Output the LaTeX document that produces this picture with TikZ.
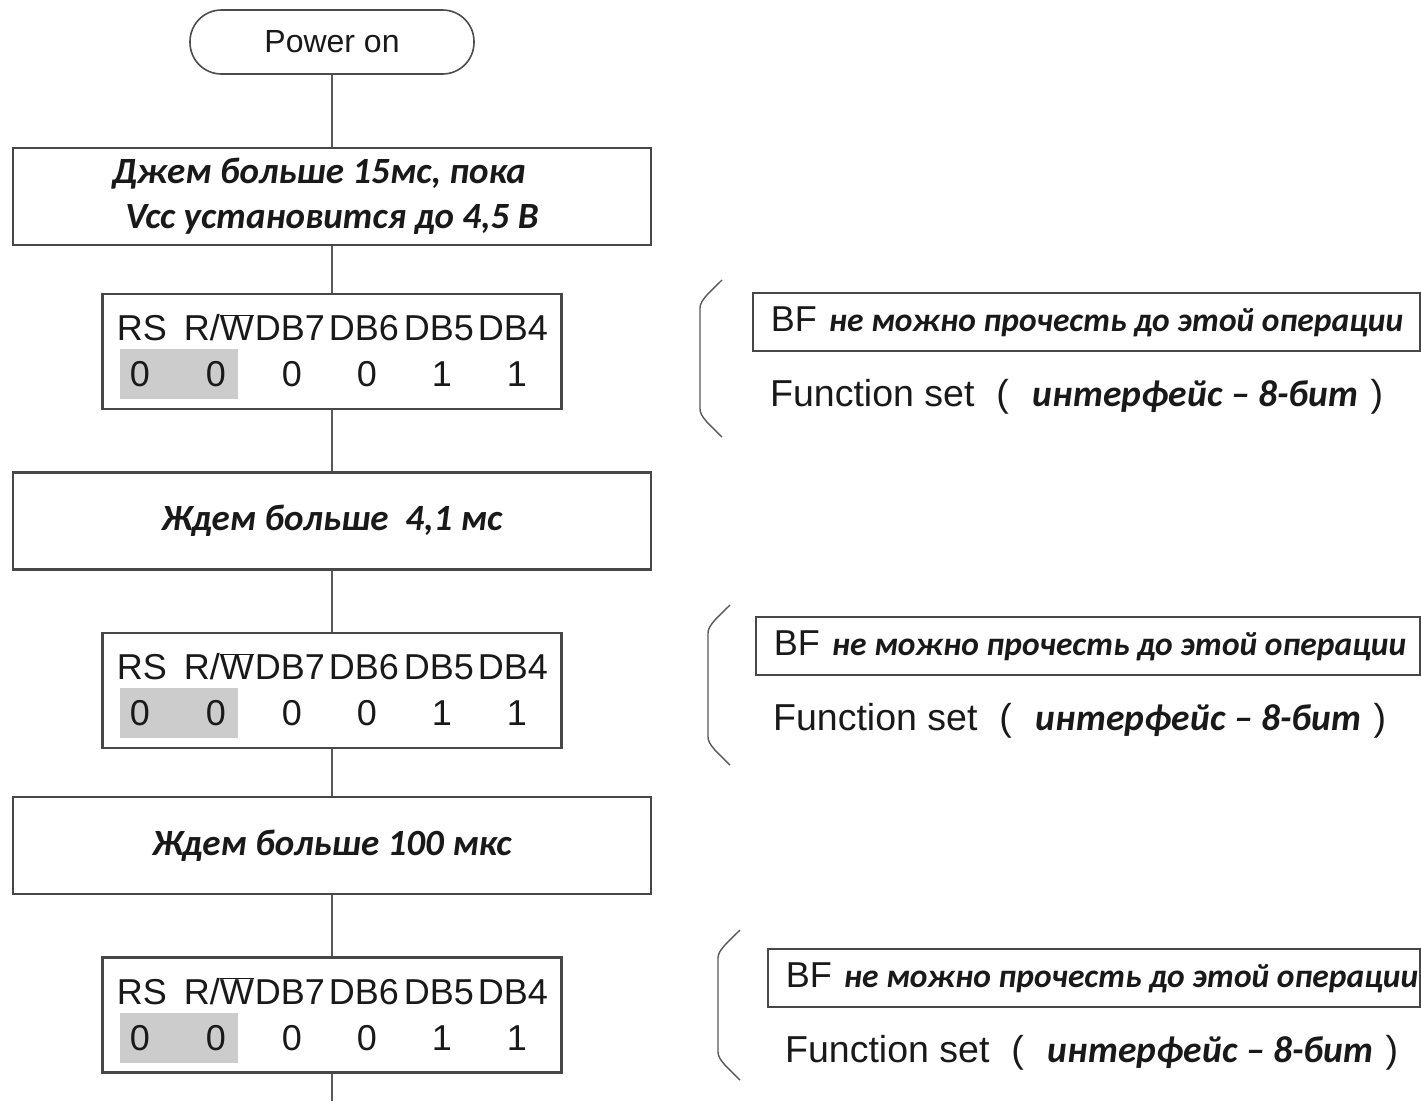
\documentclass[tikz,border=0pt]{standalone}
\usepackage{fontspec}
\setmainfont{Liberation Sans}
\newfontfamily\cyrfont{Carlito}
\usetikzlibrary{calc}
\newcommand\ru[1]{{\cyrfont\bfseries\itshape #1}}
\newcommand\barW{\ensuremath{\overline{\hbox{W}}}}

\tikzset{
  conn/.style={draw=black!65, line width=1.6pt},
  frame/.style={draw=black!72, line width=2.2pt, inner sep=0pt},
  stepbox/.style={frame, minimum width=638pt, minimum height=97pt, align=center,
    text=black!90, font=\fontsize{37}{45}\selectfont\cyrfont\bfseries\itshape},
  regbox/.style={frame, minimum width=459pt, minimum height=115pt},
  bit/.style={inner sep=0pt, anchor=base, text=black!90, font=\fontsize{36}{40}\selectfont},
  shade/.style={fill=black!20, draw=none, inner sep=0pt, anchor=north west,
    minimum width=118pt, minimum height=50pt},
  bfbox/.style={frame, line width=1.8pt, anchor=north west, minimum height=58pt,
    inner xsep=18pt, text=black!90, font=\fontsize{36}{40}\selectfont},
  fsline/.style={inner sep=0pt, anchor=base west, text=black!90, font=\fontsize{37.5}{40}\selectfont},
  bracket/.style={draw=black!65, line width=1.4pt},
}

% register table: #1 name, #2 centre y
\newcommand\regtable[2]{%
  \node[regbox] (#1) at (332,#2) {};
  \node[shade] (#1-g) at ($(#1.north west)+(18.5,56)$) {};
  \node[bit] (#1-h1) at ($(#1.north west)+(40.5,48)$) {RS};
  \node[bit] (#1-h2) at ($(#1.north west)+(117.5,48)$) {R/\barW};
  \node[bit] (#1-h3) at ($(#1.north west)+(188.5,48)$) {DB7};
  \node[bit] (#1-h4) at ($(#1.north west)+(262.5,48)$) {DB6};
  \node[bit] (#1-h5) at ($(#1.north west)+(337.5,48)$) {DB5};
  \node[bit] (#1-h6) at ($(#1.north west)+(411.5,48)$) {DB4};
  \node[bit] (#1-v1) at ($(#1.north west)+(38.5,94)$) {0};
  \node[bit] (#1-v2) at ($(#1.north west)+(114.5,94)$) {0};
  \node[bit] (#1-v3) at ($(#1.north west)+(190.5,94)$) {0};
  \node[bit] (#1-v4) at ($(#1.north west)+(265.5,94)$) {0};
  \node[bit] (#1-v5) at ($(#1.north west)+(340.5,94)$) {1};
  \node[bit] (#1-v6) at ($(#1.north west)+(415.5,94)$) {1};
}

% side note: #1 name, #2 bracket x, #3 bracket top, #4 bracket bottom,
% #5 box left x, #6 box top y
\newcommand\bfnote[6]{%
  \draw[bracket] (#2+22,#3) .. controls (#2+10,#3+12) and (#2,#3+20) .. (#2,#3+28)
     -- (#2,#4-28) .. controls (#2,#4-20) and (#2+10,#4-12) .. (#2+22,#4);
  \node[bfbox, minimum width=1419pt-#5pt] (#1-bf) at (#5,#6)
     {\makebox[\dimexpr1419pt-#5pt-36pt\relax][l]{BF\hspace{12pt}%
      \ru{\fontsize{33.5}{40}\selectfont не можно прочесть до этой операции}}};
  \node[fsline] (#1-fs) at (#5+18,#6+114)
     {Function set\hspace{22pt}(\hspace{24pt}\ru{интерфейс – 8-бит}\hspace{12pt})};
}

\begin{document}
\begin{tikzpicture}[x=1pt, y=-1pt]
  \path[use as bounding box, fill=white] (0,0) rectangle (1421,1101);

  \node[draw=black!70, line width=1.6pt, rounded corners=31.5pt, minimum width=284pt,
        minimum height=64pt, inner sep=0pt, text=black!90,
        font=\fontsize{32}{36}\selectfont] (pwr) at (332,42) {Power on};

  \node[stepbox] (wait1) at (332,196.5)
    {Джем больше 15мс, пока\hspace*{26pt}\\ Vcc установится до 4,5 В};
  \regtable{fs1}{351.5}
  \node[stepbox] (wait2) at (332,521) {Ждем больше\ \ 4,1 мс};
  \regtable{fs2}{690.5}
  \node[stepbox] (wait3) at (332,845.5) {Ждем больше 100 мкс};
  \regtable{fs3}{1015}
  \coordinate (next) at (332,1101);

  \draw[conn] (pwr) -- (wait1);
  \draw[conn] (wait1) -- (fs1);
  \draw[conn] (fs1) -- (wait2);
  \draw[conn] (wait2) -- (fs2);
  \draw[conn] (fs2) -- (wait3);
  \draw[conn] (wait3) -- (fs3);
  \draw[conn] (fs3) -- (next);

  \bfnote{n1}{700}{280}{437}{752}{292}
  \bfnote{n2}{708}{605}{765}{755}{616}
  \bfnote{n3}{718}{930}{1080}{767}{948}
\end{tikzpicture}
\end{document}
